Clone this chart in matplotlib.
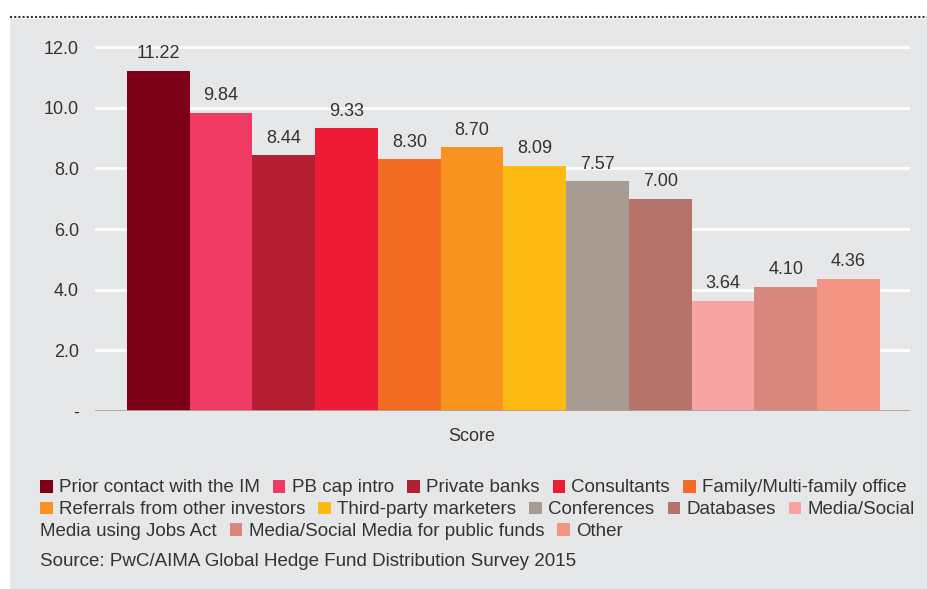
import numpy as np
import matplotlib.pyplot as plt
from matplotlib.patches import Rectangle
from matplotlib.lines import Line2D

plt.rcParams['font.family'] = ['Liberation Sans', 'DejaVu Sans']

# data
sources = ['Prior contact with the IM', 'PB cap intro', 'Private banks', 'Consultants',
           'Family/Multi-family office', 'Referrals from other investors',
           'Third-party marketers', 'Conferences', 'Databases',
           'Media/Social Media using Jobs Act', 'Media/Social Media for public funds', 'Other']
scores = [11.22, 9.84, 8.44, 9.33, 8.30, 8.70, 8.09, 7.57, 7.00, 3.64, 4.10, 4.36]
colors = ['#7D0019', '#EF3B63', '#B41F34', '#ED1B36', '#F36C23', '#F7931E',
          '#FCBA13', '#A89C92', '#B5736A', '#F5A3A4', '#D8877C', '#F49482']
yticks = [0, 2, 4, 6, 8, 10, 12]
ytick_labels = ['-', '2.0', '4.0', '6.0', '8.0', '10.0', '12.0']

TXT = '#333333'
PANEL = '#E6E7E8'
W, H = 927, 589


def fx(x):
    return x / W


def fy(y):
    return 1 - y / H


fig = plt.figure(figsize=(W / 100, H / 100), dpi=100)
fig.patch.set_facecolor('white')
fig.patches.append(Rectangle((fx(10), 0), 1 - fx(10), fy(19), transform=fig.transFigure,
                             facecolor=PANEL, edgecolor='none', zorder=-1))
fig.lines.append(Line2D([fx(10), 1], [fy(16.5), fy(16.5)], transform=fig.transFigure,
                        color='#333333', lw=1.5, linestyle=(0, (1, 1)), zorder=-1))

# axes
ax = fig.add_axes([fx(95), fy(411), fx(910) - fx(95), (411 - 38) / H])
ax.set_facecolor('none')
x = np.arange(len(scores))
ax.bar(x, scores, width=1.0, color=colors, zorder=3)
for xi, v in zip(x, scores):
    ax.annotate(f'{v:.2f}', (xi, v), xytext=(0, 9), textcoords='offset points',
                ha='center', va='baseline', fontsize=13, color=TXT)

ax.set_xlim(-1.01, 11.98)
ax.set_ylim(0, 12.3)
ax.set_yticks(yticks)
ax.set_yticklabels(ytick_labels)
ax.set_xticks([])
ax.tick_params(axis='y', length=0, pad=11.5, labelsize=13, labelcolor=TXT)
ax.yaxis.grid(True, color='white', lw=2)
ax.set_axisbelow(True)
for s in ax.spines.values():
    s.set_visible(False)
ax.axhline(0, color='#A9A39E', lw=2, zorder=4)

fig.text(fx(472), fy(441), 'Score', ha='center', va='baseline', fontsize=13, color=TXT)

# legend, flowing over three lines like the original
rows = [
    [(0, sources[0]), (1, sources[1]), (2, sources[2]), (3, sources[3]), (4, sources[4])],
    [(5, sources[5]), (6, sources[6]), (7, sources[7]), (8, sources[8]), (9, 'Media/Social')],
    [(None, 'Media using Jobs Act'), (10, sources[10]), (11, sources[11])],
]
baselines = [492.5, 514, 535.5]
renderer = fig.canvas.get_renderer()
LFS = 13.5
for row, base in zip(rows, baselines):
    cur = 40
    for ci, label in row:
        if ci is not None:
            fig.patches.append(Rectangle((fx(cur), fy(base)), 12.5 / W, 12.5 / H,
                                         transform=fig.transFigure,
                                         facecolor=colors[ci], edgecolor='none'))
            cur += 12.5 + 6.5
        t = fig.text(fx(cur), fy(base), label, fontsize=LFS, color=TXT, va='baseline')
        cur += t.get_window_extent(renderer).width + 13

fig.text(fx(40), fy(565.5), 'Source: PwC/AIMA Global Hedge Fund Distribution Survey 2015',
         fontsize=LFS, color=TXT, va='baseline')

fig.savefig('out.png', dpi=100)
